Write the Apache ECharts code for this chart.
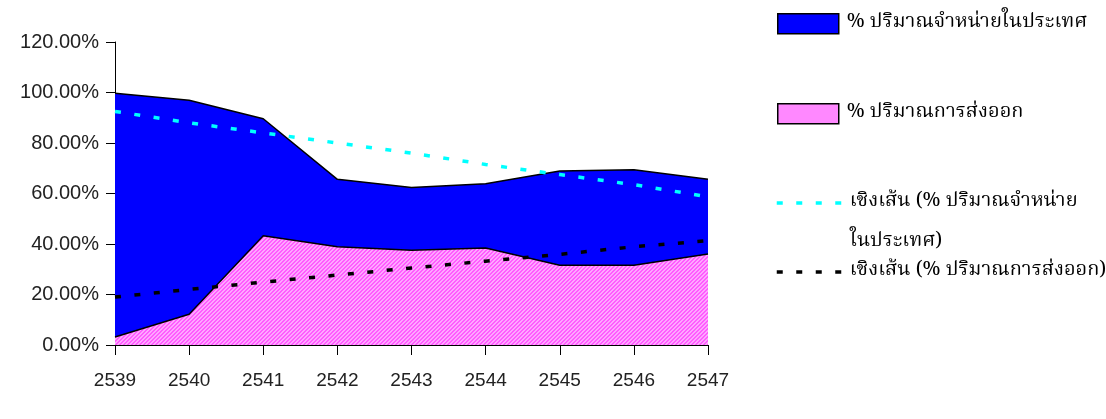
<!DOCTYPE html>
<html><head><meta charset="utf-8">
<script src="https://cdn.jsdelivr.net/npm/echarts@6/dist/echarts.min.js"></script>
<style>html,body{margin:0;padding:0;background:#fff}#c{width:1106px;height:419px}</style>
</head><body><div id="c"></div>
<script>
const years = ['2539','2540','2541','2542','2543','2544','2545','2546','2547'];
const domestic = [99.7, 96.9, 89.6, 65.6, 62.4, 63.9, 68.9, 69.4, 65.6];
const exportPct = [3.2, 12.2, 43.3, 38.9, 37.5, 38.4, 31.6, 31.6, 36.0];
const domesticTrend = [92.5, 88.0, 84.0, 80.0, 76.0, 71.5, 67.5, 63.5, 58.7];
const exportTrend = [19.0, 22.0, 24.9, 27.7, 30.5, 33.2, 35.9, 38.9, 41.3];
const yTicks = [0, 20, 40, 60, 80, 100, 120];
const names = ['% ปริมาณจำหน่ายในประเทศ', '% ปริมาณการส่งออก', 'เชิงเส้น (% ปริมาณจำหน่ายในประเทศ)', 'เชิงเส้น (% ปริมาณการส่งออก)'];
const trendLabelLines = ['เชิงเส้น (% ปริมาณจำหน่าย', 'ในประเทศ)'];

function hatch() {
  const c = document.createElement('canvas');
  c.width = 4; c.height = 4;
  const g = c.getContext('2d');
  g.fillStyle = '#ffa6ff'; g.fillRect(0, 0, 4, 4);
  g.fillStyle = '#ff5cff';
  for (let i = 0; i < 4; i++) { g.fillRect((i + 0) % 4, 3 - i, 1, 1); g.fillRect((i + 1) % 4, 3 - i, 1, 1); }
  return c;
}
const pinkFill = { image: hatch(), repeat: 'repeat' };
const thaiFont = '"Noto Serif Thai", "Noto Sans Thai", Norasi, Garuda, Loma, serif';
const txt = (extra) => Object.assign({ fontFamily: thaiFont, fontSize: 20, color: '#000', lineHeight: 20, padding: [0, 0, 0, 3] }, extra || {});

const legendBase = { orient: 'vertical', padding: 0, itemGap: 0,
  itemStyle: { color: 'transparent', borderColor: 'transparent', borderWidth: 0 } };
const boxLegend = { orient: 'vertical', padding: 0, itemGap: 0, itemWidth: 61, itemHeight: 20,
  itemStyle: { borderColor: '#000', borderWidth: 1.5 } };
const chart = echarts.init(document.getElementById('c'));
chart.setOption({
  animation: false,
  grid: { left: 115, right: 398, top: 42, bottom: 74 },
  legend: [
    Object.assign({}, boxLegend, { left: 777, top: 13, data: [{ name: names[0], icon: 'rect' }], textStyle: txt() }),
    Object.assign({}, boxLegend, { left: 777, top: 103, data: [{ name: names[1], icon: 'rect' }], textStyle: txt() }),
    Object.assign({}, legendBase, { left: 775, top: 143, data: [names[2]], itemWidth: 65, itemHeight: 20,
      lineStyle: { color: '#00ffff', width: 3.5, type: [6, 13.5] },
      formatter: n => '\n' + trendLabelLines.join('\n'),
      textStyle: txt({ lineHeight: 40 }) }),
    Object.assign({}, legendBase, { left: 775, top: 262, data: [names[3]], itemWidth: 65, itemHeight: 20,
      lineStyle: { color: '#000', width: 3.5, type: [6, 13.5] },
      textStyle: txt() })
  ],
  xAxis: {
    type: 'category', data: years, boundaryGap: false,
    axisLine: { lineStyle: { color: '#000', width: 1 } },
    axisTick: { show: true, length: 10, lineStyle: { color: '#000' } },
    axisLabel: { margin: 26, fontSize: 19, color: '#222', fontFamily: '"Liberation Sans Narrow", "Arial Narrow", "Liberation Sans", Arial, sans-serif' },
    splitLine: { show: false }
  },
  yAxis: {
    type: 'value', min: yTicks[0], max: yTicks[yTicks.length - 1], interval: 20,
    axisLine: { show: true, lineStyle: { color: '#000', width: 1 } },
    axisTick: { show: true, length: 9, lineStyle: { color: '#000' } },
    axisLabel: { margin: 16, fontSize: 20, color: '#222', fontFamily: '"Liberation Sans", Arial, sans-serif', formatter: v => v.toFixed(2) + '%' },
    splitLine: { show: false }
  },
  series: [
    { name: names[0], type: 'line', data: domestic, symbol: 'none', z: 2,
      lineStyle: { color: '#000', width: 1.5 }, itemStyle: { color: '#0000ff', borderColor: '#000', borderWidth: 1.5 },
      areaStyle: { color: '#0000ff', opacity: 1 } },
    { name: names[1], type: 'line', data: exportPct, symbol: 'none', z: 3,
      lineStyle: { color: '#000', width: 1.5 }, itemStyle: { color: '#ff88ff', borderColor: '#000', borderWidth: 1.5 },
      areaStyle: { color: pinkFill, opacity: 1 } },
    { name: names[2], type: 'line', data: domesticTrend, symbol: 'none', z: 4,
      lineStyle: { color: '#00ffff', width: 3.5, type: [6, 13.5] }, itemStyle: { color: '#00ffff' } },
    { name: names[3], type: 'line', data: exportTrend, symbol: 'none', z: 5,
      lineStyle: { color: '#000', width: 3.5, type: [6, 13.5] }, itemStyle: { color: '#000' } }
  ]
});
</script></body></html>
